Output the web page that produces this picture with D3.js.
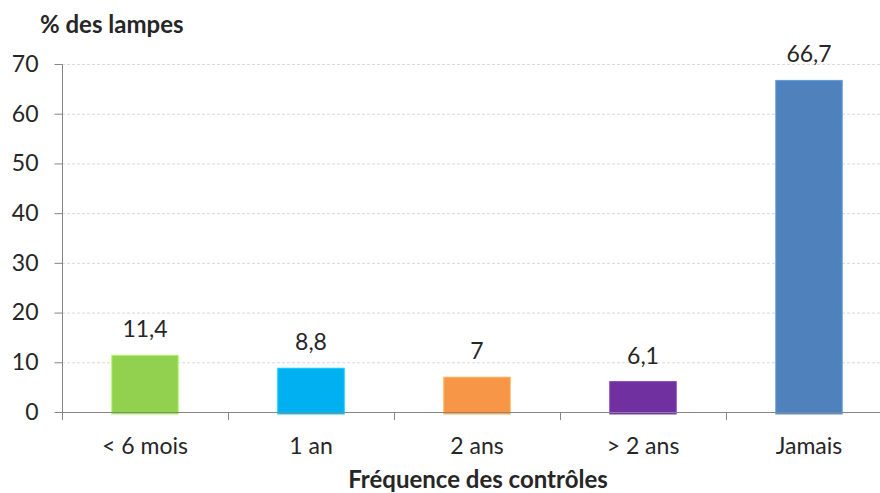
<!DOCTYPE html>
<html>
<head>
<meta charset="utf-8">
<script src="https://cdn.jsdelivr.net/npm/d3@7"></script>
<style>
  body { margin: 0; background: #fff; }
  text { font-family: Lato, "Open Sans", sans-serif; fill: #262626; }
</style>
</head>
<body>
<div id="chart"></div>
<script>
var categories = ["< 6 mois", "1 an", "2 ans", "> 2 ans", "Jamais"];
var values = [11.4, 8.8, 7, 6.1, 66.7];
var valueLabels = ["11,4", "8,8", "7", "6,1", "66,7"];
var barColors = ["#92D050", "#00B0F0", "#F79646", "#7030A0", "#4F81BD"];
var yTicks = [0, 10, 20, 30, 40, 50, 60, 70];

(function () {
    var width = 880, height = 493;
    var left = 62, zeroY = 412, topY = 64;

    var svg = d3.select("#chart")
        .append("svg")
        .attr("width", width)
        .attr("height", height);

    var x = d3.scaleBand()
        .domain(categories)
        .range([left, left + 166 * 5])
        .paddingInner(0.6)
        .paddingOuter(0.3);

    var y = d3.scaleLinear()
        .domain([0, 70])
        .range([zeroY, topY]);

    // gridlines
    svg.append("g")
        .selectAll("line")
        .data(yTicks.filter(d => d > 0))
        .join("line")
        .attr("x1", left)
        .attr("x2", width)
        .attr("y1", d => y(d) + 0.5)
        .attr("y2", d => y(d) + 0.5)
        .attr("stroke", "#d9d9d9")
        .attr("stroke-dasharray", "3,2");

    // y axis
    var yAxis = svg.append("g")
        .attr("transform", "translate(" + (left + 0.5) + ",0)")
        .call(d3.axisLeft(y).tickValues(yTicks).tickSize(8).tickPadding(16).tickFormat(d3.format("d")));
    yAxis.select(".domain").attr("stroke", "#868686").attr("d", "M0," + (topY + 0.5) + "V" + (zeroY + 0.5));
    yAxis.selectAll(".tick line").attr("stroke", "#868686");
    yAxis.selectAll(".tick text").style("font-size", "23px").attr("fill", "#262626")
        .attr("font-family", "Lato, sans-serif");

    // bars
    svg.append("g")
        .selectAll("rect")
        .data(values)
        .join("rect")
        .attr("x", (d, i) => x(categories[i]))
        .attr("y", d => y(d))
        .attr("width", x.bandwidth())
        .attr("height", d => y(0) - y(d) + 2)
        .attr("fill", (d, i) => barColors[i])
        .attr("stroke", (d, i) => d3.color(barColors[i]).brighter(0.5))
        .attr("stroke-width", 1);

    // x axis
    var bandStep = x.step();
    var xTicks = d3.range(6).map(i => left + i * bandStep);
    var xAxis = svg.append("g");
    xAxis.append("line")
        .attr("x1", left)
        .attr("x2", width)
        .attr("y1", zeroY + 0.5)
        .attr("y2", zeroY + 0.5)
        .attr("stroke", "#868686");
    xAxis.selectAll(".xt")
        .data(xTicks)
        .join("line")
        .attr("class", "xt")
        .attr("x1", d => Math.round(d) + 0.5)
        .attr("x2", d => Math.round(d) + 0.5)
        .attr("y1", zeroY)
        .attr("y2", zeroY + 8)
        .attr("stroke", "#868686");
    xAxis.selectAll("text")
        .data(categories)
        .join("text")
        .attr("x", d => x(d) + x.bandwidth() / 2)
        .attr("y", 454)
        .attr("text-anchor", "middle")
        .style("font-size", "23px")
        .text(d => d);

    // value labels
    svg.append("g")
        .selectAll("text")
        .data(values)
        .join("text")
        .attr("x", (d, i) => x(categories[i]) + x.bandwidth() / 2)
        .attr("y", d => y(d) - 18)
        .attr("text-anchor", "middle")
        .style("font-size", "23px")
        .text((d, i) => valueLabels[i]);

    // titles
    svg.append("text")
        .attr("x", 40)
        .attr("y", 33)
        .style("font-size", "24px")
        .style("font-weight", "bold")
        .text("% des lampes");

    svg.append("text")
        .attr("x", 478)
        .attr("y", 488)
        .attr("text-anchor", "middle")
        .style("font-size", "24px")
        .style("font-weight", "bold")
        .text("Fréquence des contrôles");
})();
</script>
</body>
</html>
